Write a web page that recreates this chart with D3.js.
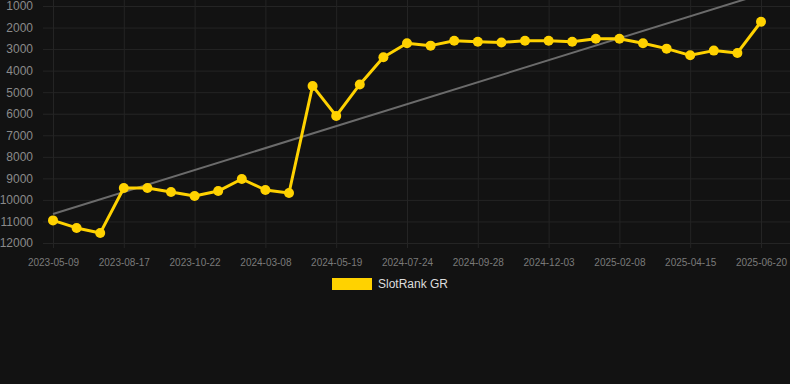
<!DOCTYPE html>
<html>
<head>
<meta charset="utf-8">
<script src="https://cdn.jsdelivr.net/npm/d3@7"></script>
<style>
  html, body { margin: 0; padding: 0; background: #121212; }
  svg { display: block; font-family: "Liberation Sans", Arial, sans-serif; }
</style>
</head>
<body>
<svg id="chart" width="790" height="384"></svg>
<script>
// Rank values per point (lower rank = better, axis is reversed)
const rankValues = [
  10950, 11300, 11540, 9450, 9450, 9630, 9820, 9590, 9030, 9540, 9680,
  4710, 6100, 4640, 3380, 2730, 2840, 2610, 2660, 2690, 2610, 2610,
  2660, 2520, 2520, 2730, 2980, 3290, 3070, 3180, 1730
];

// Labels shown under every third point
const tickLabels = [
  '2023-05-09', '2023-08-17', '2023-10-22', '2024-03-08', '2024-05-19',
  '2024-07-24', '2024-09-28', '2024-12-03', '2025-02-08', '2025-04-15', '2025-06-20'
];

const yTicks = [1000, 2000, 3000, 4000, 5000, 6000, 7000, 8000, 9000, 10000, 11000, 12000];
const seriesName = 'SlotRank GR';

const CONFIG = {
  width: 790,
  height: 384,
  left: 53,
  right: 761,
  top: 6,
  bottom: 243,
  lineColor: '#ffd200',
  gridColor: '#242424',
  trendColor: '#6b6b6b'
};

const svg = d3.select('#chart');

const x = d3.scaleLinear()
  .domain([0, rankValues.length - 1])
  .range([CONFIG.left, CONFIG.right]);

const y = d3.scaleLinear()
  .domain([1000, 12000])
  .range([CONFIG.top, CONFIG.bottom]);

// Horizontal grid + y labels
const yAxis = d3.axisLeft(y)
  .tickValues(yTicks)
  .tickSize(-(CONFIG.width - CONFIG.left + 10))
  .tickPadding(10)
  .tickFormat(d => d);

svg.append('g')
  .attr('transform', `translate(${CONFIG.left - 10},0)`)
  .call(yAxis)
  .call(g => g.select('.domain').remove())
  .call(g => g.selectAll('line').attr('stroke', CONFIG.gridColor).attr('transform', 'translate(0,0)'))
  .call(g => g.selectAll('text')
    .attr('fill', '#8a8a8a')
    .style('font-size', '12px'));

// Vertical grid + x labels at every third point
const tickIdx = tickLabels.map((_, i) => i * 3);
const xAxis = d3.axisBottom(x)
  .tickValues(tickIdx)
  .tickSize(-(CONFIG.bottom + 5))
  .tickPadding(11)
  .tickFormat((d, i) => tickLabels[i]);

svg.append('g')
  .attr('transform', `translate(0,${CONFIG.bottom + 5})`)
  .call(xAxis)
  .call(g => g.select('.domain').remove())
  .call(g => g.selectAll('line').attr('stroke', CONFIG.gridColor))
  .call(g => g.selectAll('text')
    .attr('fill', '#7a7a7a')
    .style('font-size', '10px'));

// Linear trend line (least squares fit of the series)
const n = rankValues.length;
const meanX = d3.mean(rankValues, (d, i) => i);
const meanY = d3.mean(rankValues);
const slope = d3.sum(rankValues, (d, i) => (i - meanX) * (d - meanY)) /
  d3.sum(rankValues, (d, i) => (i - meanX) * (i - meanX));
const intercept = meanY - slope * meanX;

svg.append('line')
  .attr('x1', x(0))
  .attr('y1', y(intercept))
  .attr('x2', x(n - 1))
  .attr('y2', y(intercept + slope * (n - 1)))
  .attr('stroke', CONFIG.trendColor)
  .attr('stroke-width', 2);

// Series line
const line = d3.line()
  .x((d, i) => x(i))
  .y(d => y(d));

svg.append('path')
  .datum(rankValues)
  .attr('d', line)
  .attr('fill', 'none')
  .attr('stroke', CONFIG.lineColor)
  .attr('stroke-width', 3)
  .attr('stroke-linejoin', 'round');

svg.selectAll('.point')
  .data(rankValues)
  .enter().append('circle')
  .attr('class', 'point')
  .attr('cx', (d, i) => x(i))
  .attr('cy', d => y(d))
  .attr('r', 5)
  .attr('fill', CONFIG.lineColor);

// Legend
const legend = svg.append('g').attr('transform', 'translate(332,278)');
legend.append('rect')
  .attr('width', 40)
  .attr('height', 12)
  .attr('fill', CONFIG.lineColor);
legend.append('text')
  .attr('x', 46)
  .attr('y', 6)
  .attr('dy', '0.35em')
  .attr('fill', '#dddddd')
  .style('font-size', '12px')
  .text(seriesName);
</script>
</body>
</html>
